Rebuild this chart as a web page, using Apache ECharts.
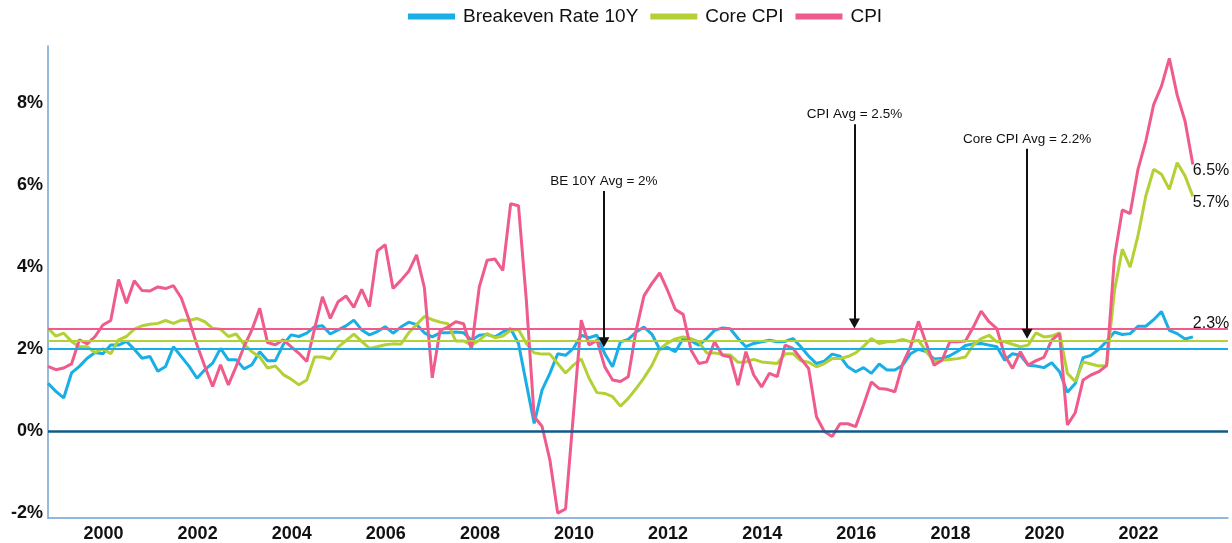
<!DOCTYPE html>
<html>
<head>
<meta charset="utf-8">
<script src="https://cdn.jsdelivr.net/npm/echarts@6/dist/echarts.min.js"></script>
<style>
  html, body { margin: 0; padding: 0; background: #fff; }
  #main { width: 1232px; height: 543px; }
</style>
</head>
<body>
<div id="main"></div>
<script>
// data: one point every 2 months, starting late 1998
var startYear = 1998.82;
var stepYears = 1 / 6;
var yearTicks = [2000, 2002, 2004, 2006, 2008, 2010, 2012, 2014, 2016, 2018, 2020, 2022];
var pctTicks = [-2, 0, 2, 4, 6, 8];

var breakeven = [
  1.17, 0.97, 0.81, 1.42, 1.58, 1.78, 1.92, 1.89, 2.1, 2.1, 2.19, 2.0, 1.78, 1.82, 1.46, 1.58,
  2.06, 1.82, 1.58, 1.29, 1.5, 1.66, 2.02, 1.74, 1.74, 1.52, 1.62, 1.94, 1.72, 1.72, 2.11, 2.35,
  2.31, 2.39, 2.55, 2.57, 2.37, 2.47, 2.57, 2.71, 2.47, 2.35, 2.43, 2.55, 2.39, 2.54, 2.66, 2.6,
  2.4, 2.3, 2.4, 2.4, 2.42, 2.4, 2.22, 2.34, 2.36, 2.3, 2.42, 2.5, 2.14, 1.16, 0.19, 1.0,
  1.41, 1.89, 1.85, 2.02, 2.34, 2.28, 2.34, 1.89, 1.57, 2.18, 2.24, 2.42, 2.54, 2.37, 2.0, 2.04,
  1.94, 2.26, 2.2, 2.1, 2.26, 2.46, 2.52, 2.5, 2.26, 2.06, 2.14, 2.18, 2.22, 2.18, 2.19, 2.26,
  2.06, 1.83, 1.65, 1.71, 1.88, 1.83, 1.57, 1.45, 1.55, 1.41, 1.64, 1.49, 1.49, 1.61, 1.89, 2.0,
  1.94, 1.76, 1.77, 1.84, 1.95, 2.09, 2.13, 2.14, 2.1, 2.06, 1.73, 1.89, 1.85, 1.61, 1.59, 1.55,
  1.67, 1.45, 0.95, 1.16, 1.79, 1.85, 2.0, 2.19, 2.42, 2.36, 2.38, 2.56, 2.56, 2.72, 2.92, 2.46,
  2.38, 2.25, 2.3
];

var coreCpi = [
  2.51, 2.32, 2.39, 2.19, 2.06, 2.06, 1.92, 2.01, 1.89, 2.23, 2.31, 2.49, 2.57, 2.61, 2.63, 2.7,
  2.63, 2.71, 2.7, 2.75, 2.67, 2.51, 2.49, 2.31, 2.37, 2.12, 1.94, 1.81, 1.54, 1.59, 1.38, 1.27,
  1.13, 1.25, 1.81, 1.81, 1.76, 2.05, 2.21, 2.37, 2.19, 2.02, 2.06, 2.11, 2.13, 2.12, 2.4, 2.6,
  2.8, 2.72, 2.66, 2.62, 2.2, 2.2, 2.1, 2.22, 2.38, 2.28, 2.32, 2.46, 2.48, 2.14, 1.91, 1.88,
  1.88, 1.65, 1.42, 1.61, 1.76, 1.29, 0.94, 0.92, 0.84, 0.61, 0.8, 1.04, 1.3, 1.6, 2.0, 2.15,
  2.25, 2.3, 2.26, 2.18, 1.91, 1.91, 1.87, 1.86, 1.68, 1.69, 1.75, 1.69, 1.67, 1.65, 1.89, 1.89,
  1.72, 1.68, 1.57, 1.65, 1.77, 1.77, 1.82, 1.91, 2.07, 2.26, 2.14, 2.18, 2.19, 2.24, 2.18, 2.22,
  1.94, 1.7, 1.73, 1.75, 1.77, 1.81, 2.1, 2.26, 2.34, 2.18, 2.18, 2.12, 2.06, 2.1, 2.4, 2.3,
  2.32, 2.4, 1.41, 1.21, 1.69, 1.64, 1.59, 1.6, 3.43, 4.44, 4.0, 4.77, 5.74, 6.39, 6.27, 5.9,
  6.55, 6.23, 5.73
];

var cpi = [
  1.58, 1.5, 1.54, 1.64, 2.23, 2.13, 2.31, 2.59, 2.7, 3.7, 3.12, 3.67, 3.43, 3.42, 3.52, 3.48,
  3.55, 3.25, 2.71, 2.1, 1.58, 1.09, 1.62, 1.13, 1.58, 2.06, 2.47, 3.0, 2.16, 2.11, 2.23, 2.06,
  1.9, 1.7, 2.5, 3.28, 2.75, 3.16, 3.3, 3.02, 3.46, 3.04, 4.4, 4.55, 3.48, 3.68, 3.9, 4.3,
  3.5, 1.3, 2.46, 2.54, 2.67, 2.62, 2.0, 3.52, 4.17, 4.2, 3.92, 5.55, 5.5, 3.2, 0.35, 0.12,
  -0.7, -2.0, -1.9, 0.4, 2.71, 2.1, 2.22, 1.57, 1.25, 1.21, 1.33, 2.46, 3.3, 3.6, 3.86, 3.44,
  2.97, 2.85, 1.98, 1.65, 1.69, 2.18, 1.85, 1.81, 1.12, 1.94, 1.37, 1.08, 1.41, 1.33, 2.1, 2.02,
  1.77, 1.53, 0.35, -0.01, -0.13, 0.18, 0.18, 0.11, 0.64, 1.2, 1.04, 1.02, 0.96, 1.65, 2.06, 2.68,
  2.14, 1.61, 1.73, 2.18, 2.18, 2.2, 2.54, 2.93, 2.67, 2.5, 1.85, 1.53, 1.94, 1.61, 1.72, 1.8,
  2.22, 2.38, 0.15, 0.45, 1.25, 1.37, 1.45, 1.6, 4.24, 5.4, 5.31, 6.39, 7.08, 7.97, 8.42, 9.1,
  8.2, 7.57, 6.51
];

var beAvg = 2.0;
var coreAvg = 2.2;
var cpiAvg = 2.5;

var FONT = 'Liberation Sans, Arial, sans-serif';
var BLUE = '#1aaee6';
var GREEN = '#b3d136';
var PINK = '#ef5b8b';

function toPairs(arr) {
  return arr.map(function(v, i) { return [startYear + i * stepYears, v]; });
}

function avgLine(value, color) {
  return {
    silent: true,
    symbol: 'none',
    label: { show: false },
    lineStyle: { color: color, width: 2, type: 'solid' },
    data: [{ yAxis: value }]
  };
}

function endLabel(offsetY) {
  return {
    show: true,
    distance: 0,
    offset: [0, offsetY],
    color: '#111',
    fontFamily: FONT,
    fontSize: 16,
    formatter: function(p) { return p.value[1].toFixed(1) + '%'; }
  };
}

function arrow(x, yTop, yEnd, text) {
  return [
    {
      coord: [x, yTop],
      label: {
        show: true, position: 'start', distance: 3, formatter: text,
        color: '#111', fontFamily: FONT, fontSize: 13.5
      }
    },
    { coord: [x, yEnd] }
  ];
}

var chart = echarts.init(document.getElementById('main'));

var option = {
  animation: false,
  textStyle: { fontFamily: FONT },
  legend: {
    top: 2,
    left: 403,
    icon: 'rect',
    itemWidth: 47,
    itemHeight: 6,
    itemGap: 12,
    textStyle: { fontSize: 19, color: '#111', fontFamily: FONT, padding: [0, 0, 0, 3] },
    data: ['Breakeven Rate 10Y', 'Core CPI', 'CPI']
  },
  grid: { left: 48, right: 4, top: 46, bottom: 25 },
  xAxis: {
    type: 'value',
    min: startYear,
    max: 2023.9,
    splitLine: { show: false },
    axisTick: { show: false },
    axisLine: { onZero: false, lineStyle: { color: '#6fa3d2', width: 1.5 } },
    axisLabel: {
      customValues: yearTicks,
      margin: 7,
      fontSize: 18,
      fontWeight: 'bold',
      color: '#111',
      fontFamily: FONT,
      formatter: function(v) { return String(Math.round(v)); }
    }
  },
  yAxis: {
    type: 'value',
    min: -2.12,
    max: 9.4,
    splitLine: { show: false },
    axisTick: { show: false },
    axisLine: { show: true, lineStyle: { color: '#6fa3d2', width: 1.5 } },
    axisLabel: {
      customValues: pctTicks,
      margin: 5,
      fontSize: 18,
      fontWeight: 'bold',
      color: '#111',
      fontFamily: FONT,
      formatter: function(v) { return Math.round(v) + '%'; }
    }
  },
  series: [
    {
      name: 'Breakeven Rate 10Y',
      type: 'line',
      showSymbol: false,
      color: BLUE,
      lineStyle: { width: 3 },
      data: toPairs(breakeven),
      endLabel: endLabel(-13),
      markLine: avgLine(beAvg, BLUE)
    },
    {
      name: 'Core CPI',
      type: 'line',
      showSymbol: false,
      color: GREEN,
      lineStyle: { width: 3 },
      data: toPairs(coreCpi),
      endLabel: endLabel(6),
      markLine: avgLine(coreAvg, GREEN)
    },
    {
      name: 'CPI',
      type: 'line',
      showSymbol: false,
      color: PINK,
      lineStyle: { width: 3 },
      data: toPairs(cpi),
      endLabel: endLabel(6),
      markLine: avgLine(cpiAvg, PINK)
    },
    {
      // zero line
      name: 'zero',
      type: 'line',
      data: [],
      silent: true,
      markLine: {
        silent: true,
        symbol: 'none',
        label: { show: false },
        lineStyle: { color: '#0f5a8a', width: 2.5, type: 'solid' },
        data: [{ yAxis: 0 }]
      }
    },
    {
      // average call-outs
      name: 'arrows',
      type: 'line',
      data: [],
      silent: true,
      markLine: {
        silent: true,
        symbol: ['none', 'triangle'],
        symbolSize: [11, 10],
        lineStyle: { color: '#111', width: 2, type: 'solid' },
        itemStyle: { color: '#111' },
        data: [
          arrow(2010.635, 5.86, 2.17, 'BE 10Y Avg = 2%'),
          arrow(2015.96, 7.49, 2.63, 'CPI Avg = 2.5%'),
          arrow(2019.63, 6.89, 2.38, 'Core CPI Avg = 2.2%')
        ]
      }
    }
  ]
};

chart.setOption(option);
</script>
</body>
</html>
